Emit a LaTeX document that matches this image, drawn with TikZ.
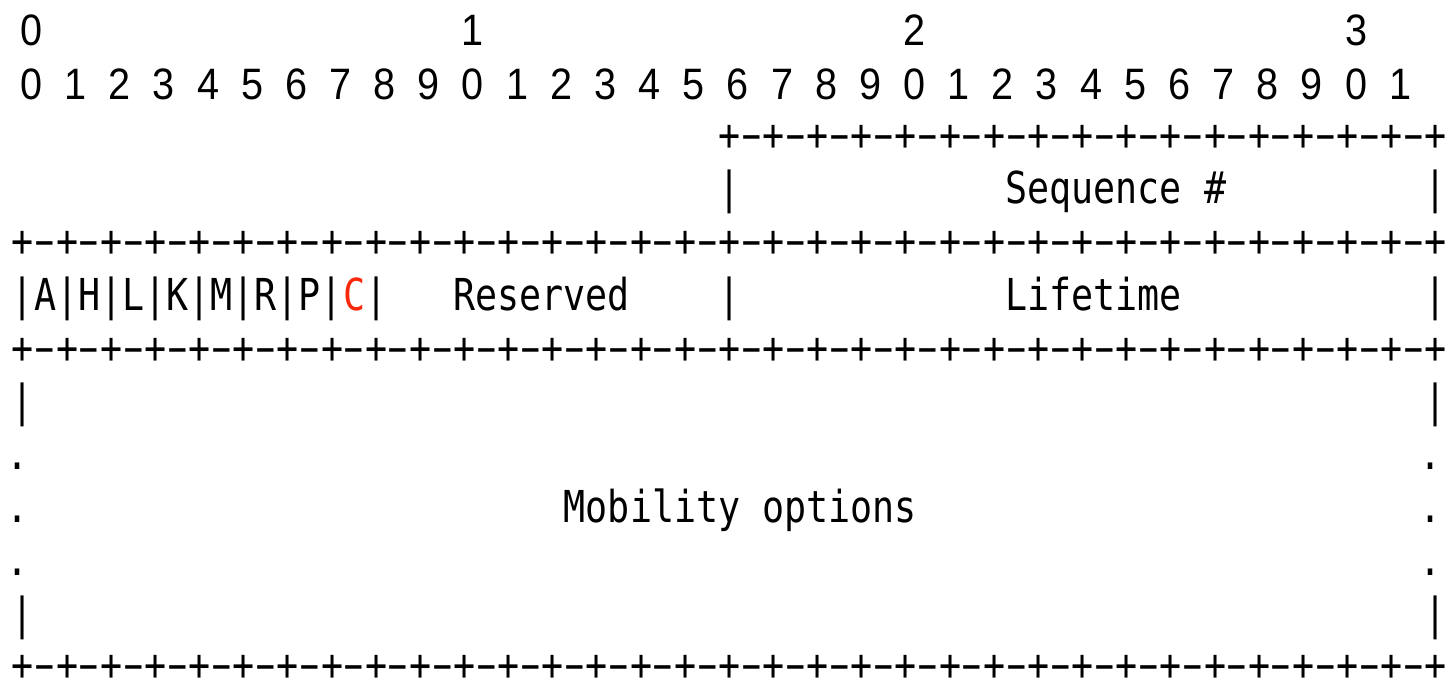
\documentclass[tikz,border=0pt]{standalone}
\usepackage{fontspec}
\usepackage{graphicx}
\newfontfamily\monofnt[FakeStretch=0.8333]{DejaVu Sans Mono}
\newfontfamily\digitfnt[FakeStretch=0.9]{Liberation Sans}
\definecolor{flagred}{RGB}{250,40,10}
% + - + - line: #1 name prefix, #2 baseline, #3 first pair, #4 last pair
\newcommand\plusline[4]{%
  \foreach \j in {#3,...,#4} {\node[ch] (#1p\j) at ({23+44.15*\j},#2) {+};}
  \pgfmathtruncatemacro\lastj{#4-1}%
  \foreach \j in {#3,...,\lastj} {\node[hyph] (#1h\j) at ({45.075+44.15*\j},#2) {\scalebox{1.75}[1]{-}};}
}
\begin{document}
\begin{tikzpicture}[x=1pt,y=-1pt,
  ch/.style={inner sep=0pt, outer sep=0pt, anchor=base, font=\monofnt\fontsize{44}{44}\selectfont},
  dg/.style={inner sep=0pt, outer sep=0pt, anchor=base, font=\digitfnt\fontsize{44}{44}\selectfont},
  word/.style={ch, anchor=base west},
  hyph/.style={ch, yshift=1pt},
  flag/.style={text=flagred}]
\useasboundingbox (0,0) rectangle (1445,678);
% bit numbering
\node[dg] (t0) at (31.5,45) {0};
\node[dg] (t1) at ({31.5+44.15*10},45) {1};
\node[dg] (t2) at ({31.5+44.15*20},45) {2};
\node[dg] (t3) at ({31.5+44.15*30},45) {3};
\foreach \k in {0,...,31} {
  \pgfmathtruncatemacro\d{mod(\k,10)}
  \node[dg] (b\k) at ({31.5+44.15*\k},99) {\d};
}
% row 2/3: sequence number
\plusline{rA}{150.5}{16}{32}
\node[ch] (sl) at ({23+22.075*32},203.7) {|};
\node[word] (seq) at ({11.96+22.075*45},203.7) {Sequence \#};
\node[ch] (sr) at ({23+22.075*64},203.7) {|};
% row 4
\plusline{rB}{256.8}{0}{32}
% row 5: flags, reserved, lifetime
\node[word] (flags) at (11.96,310) {|A|H|L|K|M|R|P|\textcolor{flagred}{C}|};
\node[word] (res) at ({11.96+22.075*20},310) {Reserved};
\node[ch] (lm) at ({23+22.075*32},310) {|};
\node[word] (life) at ({11.96+22.075*45},310) {Lifetime};
\node[ch] (lr) at ({23+22.075*64},310) {|};
% row 6
\plusline{rC}{363.2}{0}{32}
% rows 7-11: mobility options
\node[ch] (m7l) at (23,416.3) {|};
\node[ch] (m7r) at ({23+22.075*64},416.3) {|};
\node[ch,xshift=-5pt] (m8l) at (23,469.5) {.};
\node[ch,xshift=-5pt] (m8r) at ({23+22.075*64},469.5) {.};
\node[ch,xshift=-5pt] (m9l) at (23,522.7) {.};
\node[ch,xshift=-5pt] (m9r) at ({23+22.075*64},522.7) {.};
\node[word] (mob) at ({11.96+22.075*25},522.7) {Mobility options};
\node[ch,xshift=-5pt] (m10l) at (23,575.9) {.};
\node[ch,xshift=-5pt] (m10r) at ({23+22.075*64},575.9) {.};
\node[ch] (m11l) at (23,629) {|};
\node[ch] (m11r) at ({23+22.075*64},629) {|};
% row 12
\plusline{rD}{680.5}{0}{32}
\end{tikzpicture}
\end{document}
